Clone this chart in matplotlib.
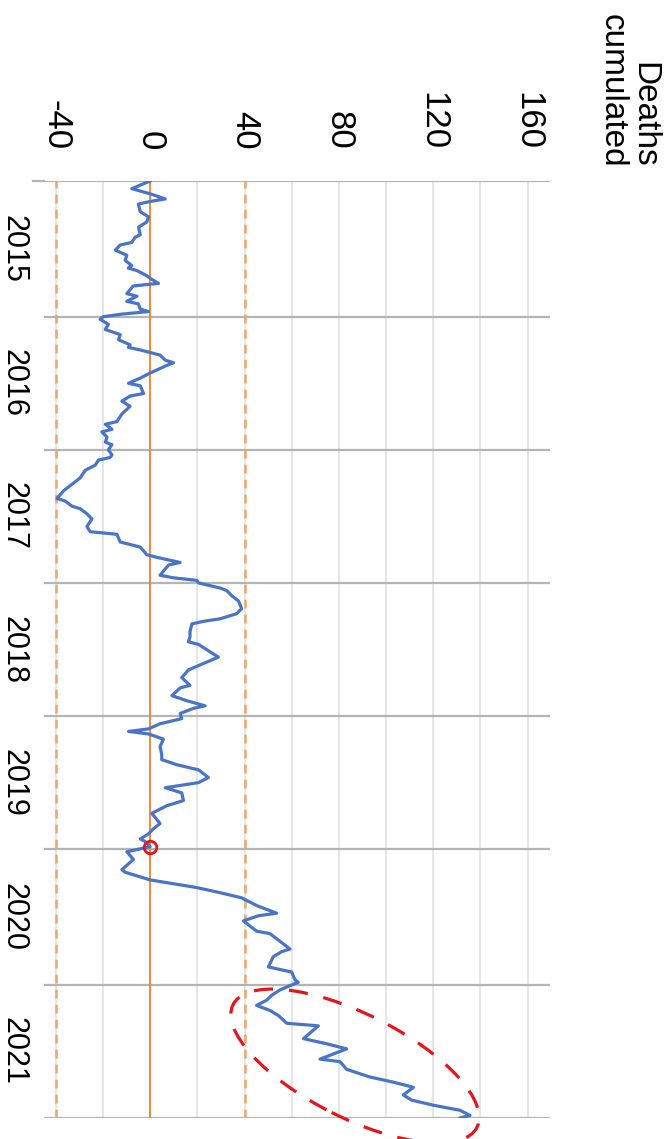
import matplotlib.pyplot as plt
from matplotlib.patches import Ellipse
from matplotlib.transforms import blended_transform_factory

# weekly cumulated excess deaths, sampled at the turning points of the curve
weeks = [0, 3, 5, 7, 8, 9, 12, 14, 16, 18, 21, 22, 24, 25, 27, 29, 31, 33, 34, 35,
         37, 38, 40, 41, 44, 45, 47, 48, 50, 51, 52, 53,
         54, 56, 58, 60, 62, 64, 65, 66, 67, 68, 70, 71, 72, 75, 77, 79, 80, 83, 84,
         86, 88, 91, 94, 95, 97, 98, 100, 102, 103, 105, 107,
         108, 109, 111, 113, 116, 119, 121, 124, 125, 127, 128, 130, 132, 135, 137,
         138, 141, 143, 146, 147, 149, 150, 154, 155, 156,
         157, 159, 160, 162, 164, 167, 169, 171, 172, 173, 176, 178, 180, 181, 186,
         189, 191, 194, 197, 198, 201, 203, 205, 206, 208, 210, 212, 214, 215, 216,
         218, 221, 224, 226, 228, 230, 233, 235, 237, 239, 242, 244, 247, 251, 253,
         255, 257, 258, 260,
         262, 265, 269, 270, 273, 276, 278, 280, 283, 286, 287, 289, 293, 294, 300,
         301, 303, 307, 309, 312, 313,
         314, 316, 318, 320, 322, 324, 326, 329, 330, 335, 337, 339, 343, 344, 347,
         350, 352, 354, 357, 359, 361, 363, 365, 366]
deaths = [0, -7.8, 0, 6.4, 0, -5, -4.2, -0.7, -1.4, -4.9, -4.2, -6.4, -7.8, -12.7, -14.8, -9.9, -10.6, -7.8, -9.3, -5.6,
          -1.4, 0, 3.5, -7.2, -9.9, -5.6, -9.9, -5, -4.2, -0.7, -12, -19.9,
          -21.2, -17.7, -19, -12.7, -13.4, -8.5, -9.2, -4.2, 0, 4.2, 6.4, 9.9, 7.1, 0, -4.2, -9.2, -4.2, -2.8, -8.5,
          -12, -8.5, -12, -14.1, -19, -16.2, -20.5, -18.3, -19, -16.2, -17.7, -16.2,
          -17, -21.9, -23.3, -27.5, -29.7, -33.9, -36.7, -39.5, -36, -33.2, -29.7, -26.8, -24.7, -26.8, -25.4,
          -14.1, -12.7, -4.2, -1.4, 2.8, 12.7, 7.8, 4.2, 9.9, 19.8,
          20.5, 29.7, 32.5, 34.6, 37.4, 38.8, 36.7, 29.7, 22.6, 17.7, 16.9, 16.9, 16.2, 20.5, 28.9,
          21.2, 16.2, 13.4, 16.9, 12.7, 9.2, 15.5, 23.3, 18.3, 12.7, 13.4, 4.2, -0.7, -9.2, -0.7,
          5.6, 4.2, 4.9, 4.9, 11.3, 20.5, 24.7, 20.5, 6.4, 13.4, 14.1, 7.1, 0.7, 4.2, 1.4,
          -0.7, -4.2, -2.1, 0,
          -9.9, -7.1, -12, -10.6, 0, 19.8, 29.7, 38.8, 45.1, 53.6, 45.9, 39.5, 45.1, 50.8, 59.3,
          55.8, 52.2, 50.1, 60, 61.4, 62.8,
          60, 55, 51.6, 49.4, 45.1, 50.8, 54.4, 57.9, 71.3, 65, 74.8, 83.3, 72, 80.5, 83.3,
          93.2, 103.1, 111.6, 107.3, 110.8, 120, 131.4, 135.6, 131.4]

years = ['2015', '2016', '2017', '2018', '2019', '2020', '2021']
year_start = [0, 53, 105, 157, 209, 261, 314, 366]
value_ticks = [-40, 0, 40, 80, 120, 160]
marked_week = 260
marked_value = 0

W, H = 671, 1139
fig = plt.figure(figsize=(W / 100, H / 100), dpi=100)
ax = fig.add_axes([44 / W, 1 - 1118 / H, 506 / W, 937 / H])

for v in range(-40, 161, 20):
    ax.axvline(v, color='#e4e4e4', lw=1.3, zorder=1)
for ys in year_start:
    ax.axhline(ys, color='#b4b4b4', lw=1.6, zorder=2)
# the top rule runs a little past the left edge
ax.plot([-11 / 506, 0], [1, 1], transform=ax.transAxes, color='#b4b4b4', lw=1.6, clip_on=False)

ax.axvline(0, color='#f28a3a', lw=1.4, zorder=3)
for v in (-40, 40):
    ax.axvline(v, color='#f3a46a', lw=1.8, ls=(0, (3.5, 2.5)), zorder=3)

ax.plot(deaths, weeks, color='#4a74c9', lw=2.3, zorder=4)
ax.plot([marked_value], [marked_week], 'o', ms=9, mfc='none', mec='#e8141b', mew=2, zorder=5)

ax.set_xlim(-45, 169.5)
ax.set_ylim(year_start[-1], year_start[0])
for s in ax.spines.values():
    s.set_visible(False)
ax.set_xticks([])
ax.set_yticks([])

# value labels above the plot, read top to bottom
top = blended_transform_factory(ax.transData, fig.transFigure)
for v in value_ticks:
    ax.text(v, 1 - 150 / H, str(v), transform=top, rotation=-90, rotation_mode='anchor',
            ha='right', va='center', fontsize=25, family='Liberation Sans', clip_on=False)

# year labels along the left edge, baseline towards the edge
left = blended_transform_factory(fig.transFigure, ax.transData)
for i, y in enumerate(years):
    mid = (year_start[i] + year_start[i + 1]) / 2
    ax.text(5 / W, mid, y, transform=left, rotation=-90, rotation_mode='anchor',
            ha='center', va='baseline', fontsize=22, family='Liberation Sans', clip_on=False)

fig.text(628 / W, 1 - 168 / H, 'Deaths\ncumulated', rotation=-90, ha='center', va='bottom',
         multialignment='right', fontsize=24, family='Liberation Sans', linespacing=1.0)

# highlight of the 2021 rise
ell = Ellipse((3.55, H / 100 - 10.66), 2.73, 1.04, angle=-26.7, transform=fig.dpi_scale_trans,
              fill=False, ec='#e8141b', lw=2.3, ls=(0, (6, 5)), clip_on=False, zorder=6)
fig.add_artist(ell)

fig.savefig('out.png', dpi=100)
